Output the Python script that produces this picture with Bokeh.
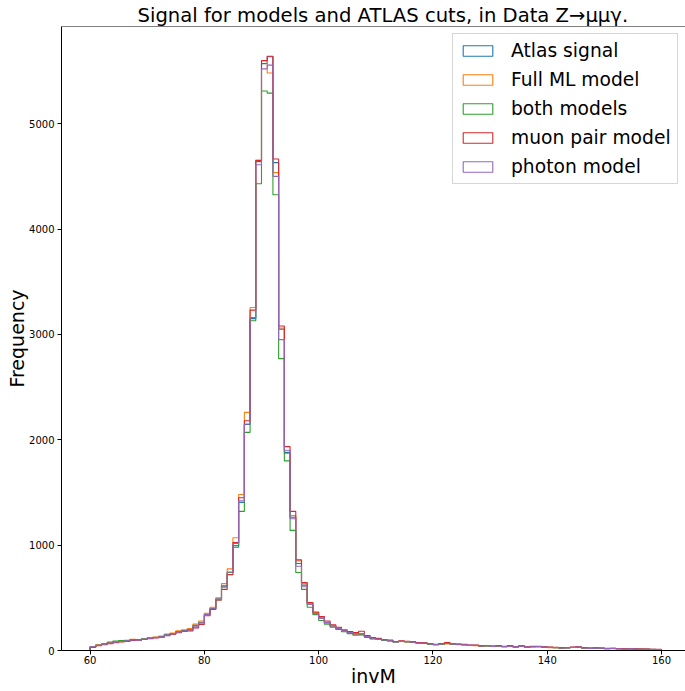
import numpy as np
from bokeh.plotting import figure
from bokeh.models import Range1d, FixedTicker, Legend, LegendItem, Span
from bokeh.embed import file_html
from bokeh.resources import INLINE

# Histogram binning: 100 bins of width 1 GeV over the invariant-mass window
BIN_START = 60
BIN_END = 160
N_BINS = 100

# Counts per bin (60-61, 61-62, ..., 159-160) for each selection
atlas_signal = [
    35, 52, 62, 72, 82, 88, 93, 103, 100, 110,
    118, 125, 132, 150, 160, 178, 188, 198, 235, 268,
    345, 400, 490, 610, 740, 980, 1405, 2145, 3150, 4640,
    5570, 5635, 4630, 3050, 1880, 1265, 825, 620, 440, 355,
    310, 268, 235, 212, 188, 172, 158, 162, 135, 117,
    110, 100, 94, 82, 88, 85, 80, 72, 70, 63,
    57, 62, 68, 62, 60, 56, 50, 49, 43, 46,
    40, 44, 38, 41, 35, 42, 33, 37, 38, 34,
    30, 28, 25, 26, 30, 33, 25, 21, 24, 22,
    19, 20, 17, 15, 16, 14, 13, 12, 11, 10,
]
full_ml_model = [
    36, 54, 64, 76, 86, 92, 95, 106, 104, 114,
    121, 128, 136, 155, 166, 186, 196, 208, 250, 280,
    352, 410, 500, 635, 775, 1070, 1480, 2260, 3255, 4655,
    5595, 5480, 4535, 3060, 1870, 1280, 850, 635, 450, 360,
    315, 262, 232, 208, 185, 168, 152, 150, 128, 112,
    106, 96, 92, 80, 85, 82, 76, 70, 66, 60,
    55, 58, 64, 58, 56, 52, 48, 46, 40, 44,
    38, 41, 36, 38, 33, 40, 30, 35, 35, 30,
    26, 26, 23, 24, 28, 30, 22, 20, 22, 20,
    18, 18, 16, 14, 15, 13, 12, 11, 10, 9,
]
both_models = [
    33, 50, 64, 80, 90, 95, 96, 104, 102, 112,
    118, 124, 130, 152, 158, 180, 190, 200, 240, 265,
    340, 395, 480, 615, 740, 995, 1320, 2070, 3130, 4430,
    5310, 5290, 4325, 2770, 1800, 1140, 740, 580, 410, 340,
    285, 250, 222, 200, 178, 160, 145, 148, 125, 110,
    104, 95, 90, 80, 86, 82, 78, 70, 68, 60,
    55, 60, 64, 60, 57, 54, 48, 47, 42, 44,
    38, 42, 36, 48, 34, 40, 32, 35, 36, 32,
    29, 27, 24, 25, 29, 31, 24, 20, 23, 21,
    18, 19, 16, 14, 15, 13, 12, 11, 10, 9,
]
muon_pair_model = [
    30, 45, 55, 65, 74, 80, 86, 96, 98, 104,
    112, 120, 126, 140, 155, 168, 180, 186, 215, 248,
    330, 390, 480, 580, 720, 1025, 1450, 2180, 3230, 4650,
    5600, 5640, 4665, 3080, 1935, 1320, 860, 645, 455, 365,
    322, 280, 245, 220, 196, 180, 170, 182, 142, 122,
    115, 104, 98, 86, 92, 88, 82, 76, 72, 66,
    60, 66, 75, 64, 62, 58, 52, 51, 46, 48,
    42, 46, 40, 43, 37, 44, 35, 40, 40, 36,
    32, 30, 27, 28, 32, 35, 27, 23, 26, 24,
    21, 22, 18, 16, 17, 15, 14, 13, 12, 11,
]
photon_model = [
    34, 50, 60, 70, 80, 86, 91, 100, 98, 108,
    116, 122, 130, 148, 160, 175, 186, 196, 230, 262,
    340, 396, 485, 600, 745, 1015, 1420, 2150, 3160, 4610,
    5520, 5555, 4500, 2950, 1900, 1250, 800, 605, 440, 350,
    305, 265, 232, 210, 186, 170, 156, 160, 133, 116,
    108, 99, 93, 81, 87, 84, 79, 71, 69, 62,
    56, 61, 67, 61, 59, 55, 49, 48, 42, 45,
    39, 43, 37, 40, 34, 41, 32, 36, 37, 33,
    29, 27, 24, 25, 29, 32, 24, 20, 23, 21,
    18, 19, 16, 14, 15, 13, 12, 11, 10, 9,
]

series_names = ["Atlas signal", "Full ML model", "both models",
                "muon pair model", "photon model"]
series_counts = [atlas_signal, full_ml_model, both_models,
                 muon_pair_model, photon_model]
series_colors = ["#1f77b4", "#ff7f0e", "#2ca02c", "#d62728", "#9467bd"]

x_ticks = [60, 80, 100, 120, 140, 160]
y_ticks = [0, 1000, 2000, 3000, 4000, 5000]

FONT = "DejaVu Sans"

edges = np.linspace(BIN_START, BIN_END, N_BINS + 1)
y_top = max(max(c) for c in series_counts) * 1.05

p = figure(
    width=685, height=691,
    output_backend="svg", toolbar_location=None,
    x_range=Range1d(55, 164.2), y_range=Range1d(0, y_top),
    min_border_left=61, min_border_right=0,
    min_border_top=26, min_border_bottom=41,
    background_fill_color="white", border_fill_color="white",
)

p.title.text = "Signal for models and ATLAS cuts, in Data Z\u2192\u03bc\u03bc\u03b3."
p.title.text_font = FONT
p.title.text_font_size = "19.6px"
p.title.text_font_style = "normal"
p.title.text_color = "black"
p.title.align = "left"
p.title.standoff = 0
p.title.offset = 76

p.xgrid.visible = False
p.ygrid.visible = False
p.outline_line_color = None
p.add_layout(Span(location=y_top, dimension="width", line_color="black", line_width=1))

# Step outlines (histtype "step") built from the bin edges and counts;
# hidden unfilled quads over the same bins supply the legend swatches
legend_items = []
for name, counts, color in zip(series_names, series_counts, series_colors):
    counts = np.asarray(counts, dtype=float)
    xs = np.repeat(edges, 2)
    ys = np.concatenate([[0], np.repeat(counts, 2), [0]])
    p.line(xs, ys, line_color=color, line_width=1.1)
    swatch = p.quad(left=edges[:-1], right=edges[1:], bottom=0, top=counts,
                    fill_color=None, line_color=color, line_width=1.1,
                    visible=False)
    legend_items.append(LegendItem(label=name, renderers=[swatch]))

legend = Legend(
    items=legend_items, location=(391, 466),
    label_text_font=FONT, label_text_font_size="18.7px", label_text_color="black",
    glyph_width=37, glyph_height=13, label_height=20,
    spacing=8, padding=6, label_standoff=15, margin=0,
    border_line_color="#cccccc", border_line_alpha=0.8,
    background_fill_color="white", background_fill_alpha=0.8,
    inactive_fill_alpha=0.0,
)
p.add_layout(legend)

p.xaxis.ticker = FixedTicker(ticks=x_ticks)
p.yaxis.ticker = FixedTicker(ticks=y_ticks)
p.xaxis.axis_label = "invM"
p.yaxis.axis_label = "Frequency"
for ax in (p.xaxis, p.yaxis):
    ax.axis_label_text_font = FONT
    ax.axis_label_text_font_size = "19px"
    ax.axis_label_text_font_style = "normal"
    ax.axis_label_text_color = "black"
    ax.major_label_text_font = FONT
    ax.major_label_text_font_size = "10px"
    ax.major_label_text_color = "black"
    ax.axis_line_color = "black"
    ax.major_tick_line_color = "black"
    ax.major_tick_out = 4
    ax.major_tick_in = 0
    ax.minor_tick_out = 0
    ax.minor_tick_in = 0
p.xaxis.major_label_standoff = 1
p.xaxis.axis_label_standoff = -2
p.yaxis.major_label_standoff = 3
p.yaxis.axis_label_standoff = -2

open("out.html", "w").write(file_html(p, INLINE))
